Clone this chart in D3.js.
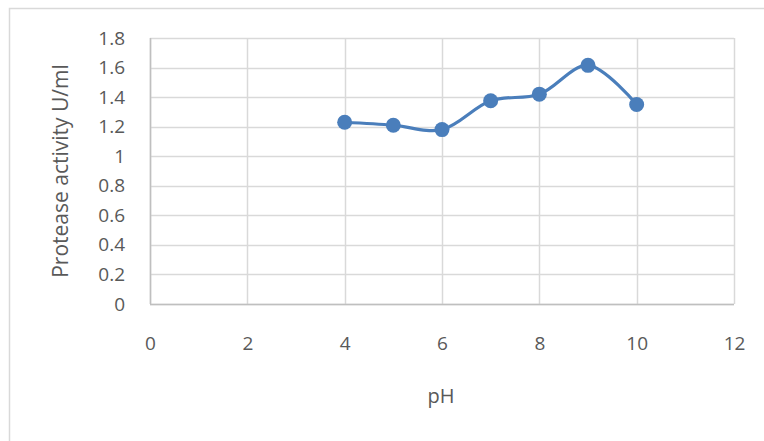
<!DOCTYPE html>
<html><head><meta charset="utf-8">
<script src="https://cdn.jsdelivr.net/npm/d3@7"></script>
<style>body{margin:0;background:#fff}svg{display:block}text{font-family:"Open Sans","Liberation Sans",sans-serif;fill:#595959}</style>
</head><body><svg id="c" width="764" height="441"></svg>
<script>
const phValues = [4, 5, 6, 7, 8, 9, 10];
const activity = [1.23, 1.21, 1.18, 1.375, 1.42, 1.615, 1.35];
const xTicks = [0, 2, 4, 6, 8, 10, 12];
const yTicks = [0, 0.2, 0.4, 0.6, 0.8, 1, 1.2, 1.4, 1.6, 1.8];

const svg = d3.select("#c");
svg.append("rect").attr("x",9.5).attr("y",8.5).attr("width",900).attr("height",600)
  .attr("fill","none").attr("stroke","#d9d9d9").attr("stroke-width",1.5);

const x = d3.scaleLinear().domain([0,12]).range([150,734]);
const y = d3.scaleLinear().domain([0,1.8]).range([304,38]);

const g = svg.append("g");
g.selectAll("line.h").data(yTicks).join("line")
  .attr("x1",x(0)).attr("x2",x(12)).attr("y1",d=>Math.round(y(d))+0.5).attr("y2",d=>Math.round(y(d))+0.5)
  .attr("stroke","#d9d9d9").attr("stroke-width",1.5);
g.selectAll("line.v").data(xTicks).join("line")
  .attr("y1",y(0)).attr("y2",y(1.8)).attr("x1",d=>Math.round(x(d))+0.5).attr("x2",d=>Math.round(x(d))+0.5)
  .attr("stroke","#d9d9d9").attr("stroke-width",1.5);
g.append("line").attr("x1",x(0)+0.5).attr("x2",x(0)+0.5).attr("y1",y(0)).attr("y2",y(1.8)).attr("stroke","#bfbfbf").attr("stroke-width",1.5);
g.append("line").attr("x1",x(0)).attr("x2",x(12)).attr("y1",y(0)+0.5).attr("y2",y(0)+0.5).attr("stroke","#bfbfbf").attr("stroke-width",1.5);

const yAxis = d3.axisLeft(y).tickValues(yTicks).tickSize(0).tickPadding(25).tickFormat(d=>String(+d.toFixed(1)));
svg.append("g").attr("transform",`translate(${x(0)},0)`).call(yAxis)
  .call(s=>s.select(".domain").remove())
  .selectAll("text").style("font-size","19px").attr("fill","#595959");
const xAxis = d3.axisBottom(x).tickValues(xTicks).tickSize(0).tickPadding(33).tickFormat(d3.format("d"));
svg.append("g").attr("transform",`translate(0,${y(0)})`).call(xAxis)
  .call(s=>s.select(".domain").remove())
  .selectAll("text").style("font-size","19px").attr("fill","#595959");

const data = phValues.map((p,i)=>({p, v:activity[i]}));
const line = d3.line().x(d=>x(d.p)).y(d=>y(d.v)).curve(d3.curveCatmullRom.alpha(0.5));
svg.append("path").datum(data).attr("d",line).attr("fill","none").attr("stroke","#4a7ebb").attr("stroke-width",3.2);
svg.selectAll("circle").data(data).join("circle").attr("cx",d=>x(d.p)).attr("cy",d=>y(d.v)).attr("r",7.5).attr("fill","#4a7ebb");

svg.append("text").attr("x",441).attr("y",403).attr("text-anchor","middle").style("font-size","20px").text("pH");
svg.append("text").attr("transform",`translate(68,${(y(0)+y(1.8))/2}) rotate(-90)`).attr("text-anchor","middle").style("font-size","21px").text("Protease activity U/ml");
</script></body></html>
